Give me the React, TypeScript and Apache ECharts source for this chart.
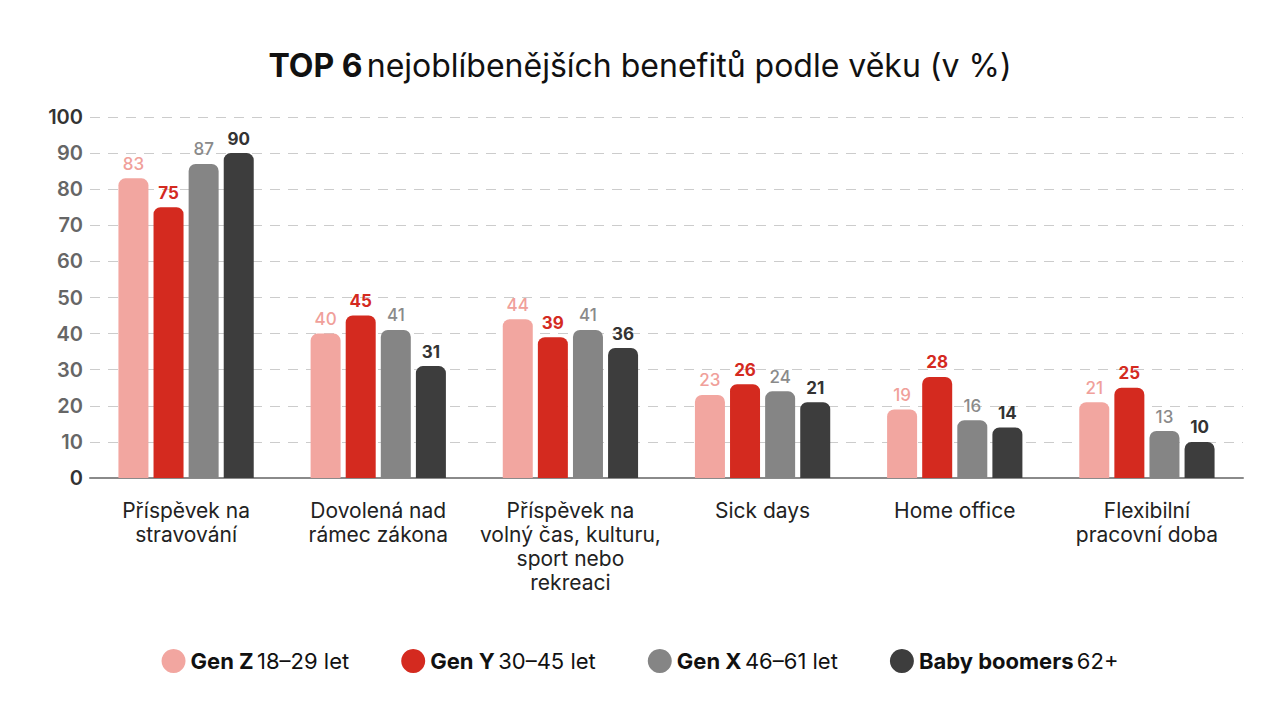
import React, { useEffect, useRef } from "react";
import * as echarts from "echarts";

const categories = [
  "Příspěvek na\nstravování",
  "Dovolená nad\nrámec zákona",
  "Příspěvek na\nvolný čas, kulturu,\nsport nebo\nrekreaci",
  "Sick days",
  "Home office",
  "Flexibilní\npracovní doba",
];

const genZ = [83, 40, 44, 23, 19, 21];
const genY = [75, 45, 39, 26, 28, 25];
const genX = [87, 41, 41, 24, 16, 13];
const boomers = [90, 31, 36, 21, 14, 10];

const seriesNames = ["Gen Z", "Gen Y", "Gen X", "Baby boomers"];
const seriesRanges = ["18–29 let", "30–45 let", "46–61 let", "62+"];
const seriesColors = ["#F2A6A0", "#D42A1F", "#858585", "#3D3D3D"];
const labelColors = ["#F0A09A", "#D42A1F", "#8A8A8A", "#333333"];
const labelWeights = [500, 700, 500, 700];

const FONT = "Inter, 'Noto Sans', sans-serif";

export default function App() {
  const ref = useRef<HTMLDivElement>(null);
  useEffect(() => {
    document.body.style.margin = "0";
    if (!ref.current) return;
    const chart = echarts.init(ref.current, null, { renderer: "svg" });
    const data = [genZ, genY, genX, boomers];
    chart.setOption({
      animation: false,
      backgroundColor: "#ffffff",
      textStyle: { fontFamily: FONT },
      title: {
        text: "{b|TOP 6} {n|nejoblíbenějších benefitů podle věku (v %)}",
        left: "center",
        top: 44,
        textStyle: {
          rich: {
            b: { fontFamily: FONT, fontSize: 32, fontWeight: 700, color: "#111" },
            n: { fontFamily: FONT, fontSize: 32, fontWeight: 400, color: "#111" },
          },
        },
      },
      legend: {
        top: 644,
        left: "center",
        icon: "circle",
        itemWidth: 24,
        itemHeight: 24,
        itemGap: 52,
        data: seriesNames,
        formatter: (name: string) => {
          const i = seriesNames.indexOf(name);
          return `{b|${name}} {n|${seriesRanges[i]}}`;
        },
        textStyle: {
          rich: {
            b: { fontFamily: FONT, fontSize: 22, fontWeight: 700, color: "#111" },
            n: { fontFamily: FONT, fontSize: 22, fontWeight: 400, color: "#111" },
          },
        },
      },
      grid: { left: 90, right: 37, top: 117, bottom: 242 },
      xAxis: {
        type: "category",
        data: categories,
        axisTick: { show: false },
        axisLine: { lineStyle: { color: "#8a8a8a", width: 2 } },
        axisLabel: {
          color: "#222",
          fontSize: 21,
          fontFamily: FONT,
          lineHeight: 24,
          margin: 20,
          interval: 0,
        },
      },
      yAxis: {
        type: "value",
        min: 0,
        max: 100,
        interval: 10,
        axisLine: { show: false },
        axisTick: { show: false },
        axisLabel: {
          color: "#666",
          fontSize: 20,
          fontWeight: 600,
          fontFamily: FONT,
          margin: 7,
          formatter: (v: number) => (v === 100 || v === 0 ? `{d|${v}}` : `${v}`),
          rich: { d: { color: "#333", fontSize: 20, fontWeight: 600, fontFamily: FONT } },
        },
        splitLine: { lineStyle: { color: "#cccccc", type: [10, 8], width: 1 } },
      },
      series: seriesNames.map((name, i) => ({
        name,
        type: "bar",
        data: data[i],
        barWidth: 30,
        barGap: "17%",
        itemStyle: { color: seriesColors[i], borderRadius: [7, 7, 0, 0] },
        label: {
          show: true,
          position: "top",
          distance: 6,
          color: labelColors[i],
          fontSize: 17,
          fontWeight: labelWeights[i],
          fontFamily: FONT,
        },
      })),
    });
    return () => chart.dispose();
  }, []);
  return <div ref={ref} style={{ width: 1280, height: 720 }} />;
}
